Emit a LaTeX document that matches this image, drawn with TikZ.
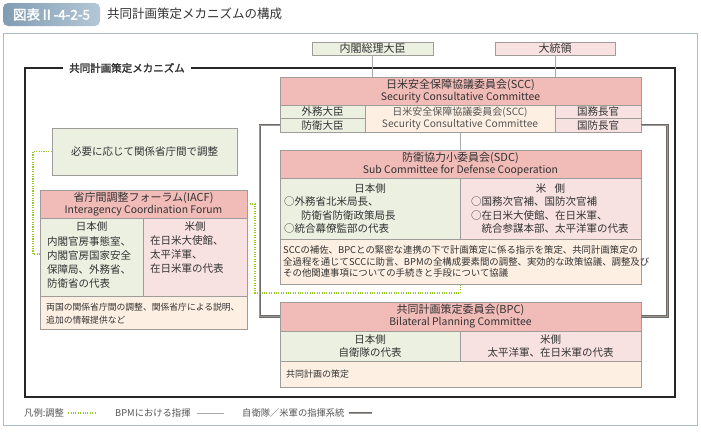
\documentclass[tikz,border=0pt]{standalone}
\usepackage{fontspec}
\setmainfont{Noto Sans CJK JP}
\newfontfamily\jpbold{Noto Sans CJK JP}[FakeBold=2]
\usetikzlibrary{calc}
\definecolor{hdr}{HTML}{F1BBB8}
\definecolor{grn}{HTML}{ECF0E1}
\definecolor{pnk}{HTML}{F8E1E1}
\definecolor{pch}{HTML}{FDEFE2}
\definecolor{bord}{HTML}{A09C9A}
\definecolor{outerc}{HTML}{A9BCCB}
\definecolor{txt}{HTML}{333333}
\definecolor{subtxt}{HTML}{555555}
\definecolor{dotg}{HTML}{96C82E}
\definecolor{cmd}{HTML}{6E6A68}
\definecolor{cmdin}{HTML}{9B9794}
\definecolor{thinc}{HTML}{A8A8A8}
\definecolor{badgeA}{HTML}{809DB4}
\definecolor{badgeB}{HTML}{B4C7D6}
\newcommand{\hj}[1]{{\fontsize{11}{13}\selectfont #1}}
\newcommand{\he}[1]{{\fontsize{10.4}{13}\selectfont #1}}
\tikzset{
  cell/.style={draw=bord, line width=0.6pt, inner sep=0pt, text=txt, align=center},
  f10/.style={font=\fontsize{10}{13}\selectfont},
  f105/.style={font=\fontsize{10.5}{13.5}\selectfont},
  f11/.style={font=\fontsize{11}{13}\selectfont},
  txtnode/.style={inner sep=0pt, text=txt, align=left},
  ctxt/.style={inner sep=0pt, text=txt, align=center},
  coordline/.style={dotg, line width=1.2pt, dash pattern=on 1.1pt off 1.3pt},
  cmdline/.style={draw=cmd, line width=0.7pt, double=cmdin, double distance=1pt},
  thinline/.style={thinc, line width=0.7pt},
  leg/.style={inner sep=0pt, text=subtxt, font=\fontsize{9.3}{11}\selectfont, anchor=west},
}
\begin{document}
\begin{tikzpicture}[x=1pt,y=-1pt]
\useasboundingbox (0,0) rectangle (701,431);
\fill[white] (0,0) rectangle (701,431);
% outer frame
\draw[outerc, line width=0.9pt] (3,33) rectangle (697,425);
% badge + title
\node[rounded corners=5pt, left color=badgeA, right color=badgeB, minimum width=97pt, minimum height=23pt, inner sep=0pt, text=white, font=\jpbold\fontsize{13.5}{14}\selectfont] (badge) at (51.5,14.5) {図表Ⅱ-4-2-5};
\node[anchor=west, inner sep=0pt, text=txt, font=\fontsize{12.5}{14}\selectfont] (title) at (107,14) {共同計画策定メカニズムの構成};
% inner frame
\node[inner sep=0pt, text=txt, font=\jpbold\fontsize{10.5}{12}\selectfont] (mech) at (127,68) {共同計画策定メカニズム};
\draw[black!85, line width=1.1pt] ([xshift=-6pt]mech.west) -- (25,68) -- (25,397) -- (675,397) -- (675,68) -- ([xshift=6pt]mech.east);
% top
\node[cell, fill=grn, minimum width=121pt, minimum height=13pt, f11] (pm) at (372.5,48.5) {内閣総理大臣};
\node[cell, fill=pnk, minimum width=120pt, minimum height=13pt, f11] (pres) at (555,48.5) {大統領};
% SCC
\node[cell, fill=hdr, minimum width=361pt, minimum height=28pt] (scch) at (460.5,91) {\hj{日米安全保障協議委員会(SCC)}\\\he{Security Consultative Committee}};
\node[cell, fill=grn, minimum width=85pt, minimum height=13.5pt, f105] (gaimu) at (322.5,111.75) {外務大臣};
\node[cell, fill=grn, minimum width=85pt, minimum height=13.5pt, f105] (boei) at (322.5,125.25) {防衛大臣};
\node[cell, fill=pch, minimum width=190pt, minimum height=27pt, text=subtxt] (sccm) at (460,118.5) {{\fontsize{10}{13}\selectfont 日米安全保障協議委員会(SCC)}\\{\fontsize{10.2}{13}\selectfont Security Consultative Committee}};
\node[cell, fill=pnk, minimum width=86pt, minimum height=13.5pt, f105] (kokumu) at (598,111.75) {国務長官};
\node[cell, fill=pnk, minimum width=86pt, minimum height=13.5pt, f105] (kokubo) at (598,125.25) {国防長官};
% SDC
\node[cell, fill=hdr, minimum width=361pt, minimum height=28pt] (sdch) at (460.5,164) {\hj{防衛協力小委員会(SDC)}\\\he{Sub Committee for Defense Cooperation}};
\node[cell, fill=grn, minimum width=180pt, minimum height=61pt] (sdcj) at (370,208.5) {};
\node[cell, fill=pnk, minimum width=181pt, minimum height=61pt] (sdcu) at (550.5,208.5) {};
\node[cell, fill=pch, minimum width=361pt, minimum height=45pt] (sdcb) at (460.5,261.5) {};
\node[ctxt, f105] (sdcjt) at (370,189) {日本側};
\node[txtnode, f105, anchor=west] (sdcjb) at (284,215.5) {○外務省北米局長、\\\hspace*{1.6em}防衛省防衛政策局長\\○統合幕僚監部の代表};
\node[ctxt, f105] (sdcut) at (550.5,189) {米\hspace{0.8em}側};
\node[txtnode, f105, anchor=west] (sdcub) at (471,215.5) {○国務次官補、国防次官補\\○在日米大使館、在日米軍、\\\hspace*{1em}統合参謀本部、太平洋軍の代表};
\node[txtnode, font=\fontsize{9.4}{11.8}\selectfont, anchor=west] (sdcbt) at (283,261.5) {SCCの補佐、BPCとの緊密な連携の下で計画策定に係る指示を策定、共同計画策定の\\全過程を通じてSCCに助言、BPMの全構成要素間の調整、実効的な政策協議、調整及び\\その他関連事項についての手続きと手段について協議};
% BPC
\node[cell, fill=hdr, minimum width=361pt, minimum height=29pt] (bpch) at (460.5,316.5) {\hj{共同計画策定委員会(BPC)}\\\he{Bilateral Planning Committee}};
\node[cell, fill=grn, minimum width=180pt, minimum height=30pt, f105] (bpcj) at (370,346) {日本側\\自衛隊の代表};
\node[cell, fill=pnk, minimum width=181pt, minimum height=30pt, f105] (bpcu) at (550.5,346) {米側\\太平洋軍、在日米軍の代表};
\node[cell, fill=pch, minimum width=361pt, minimum height=26pt] (bpcb) at (460.5,374) {};
\node[txtnode, font=\fontsize{9}{12}\selectfont, anchor=west] (bpcbt) at (286,374) {共同計画の策定};
% IACF side
\node[cell, fill=grn, minimum width=185pt, minimum height=47pt, f105] (needs) at (144.5,151.5) {必要に応じて関係省庁間で調整};
\node[cell, fill=hdr, minimum width=207pt, minimum height=28pt] (iacfh) at (143.5,204) {\hj{省庁間調整フォーラム(IACF)}\\\he{Interagency Coordination Forum}};
\node[cell, fill=grn, minimum width=103pt, minimum height=78pt] (iacfj) at (91.5,257) {};
\node[cell, fill=pnk, minimum width=104pt, minimum height=78pt] (iacfu) at (195,257) {};
\node[cell, fill=pch, minimum width=207pt, minimum height=33pt] (iacfb) at (143.5,312.5) {};
\node[ctxt, f105] (iacfjt) at (91.5,227) {日本側};
\node[txtnode, font=\fontsize{10.5}{14}\selectfont, anchor=west] (iacfjb) at (47,262) {内閣官房事態室、\\内閣官房国家安全\\保障局、外務省、\\防衛省の代表};
\node[ctxt, f105] (iacfut) at (195,227) {米側};
\node[txtnode, font=\fontsize{10.5}{14}\selectfont, anchor=west] (iacfub) at (150,255) {在日米大使館、\\太平洋軍、\\在日米軍の代表};
\node[txtnode, font=\fontsize{8.8}{13}\selectfont, anchor=west] (iacfbt) at (46,313.5) {両国の関係省庁間の調整、関係省庁による説明、\\追加の情報提供など};
% connectors
\draw[thinline] (pm.south) -- (pm.south |- scch.north);
\draw[thinline] (pres.south) -- (pres.south |- scch.north);
\draw[thinline] (sccm.south) -- (sccm.south |- sdch.north);
\draw[cmdline] (boei.west) -- ++(-20,0) |- (bpch.west);
\draw[cmdline] (kokubo.east) -- ++(26,0) |- (bpch.east);
\coordinate (dl) at (33,151.5);
\draw[coordline] (needs.west) -- (dl) |- ([yshift=3pt]iacfj.west);
\coordinate (dr) at (255,293);
\draw[coordline] (iacfh.east) -| (dr) -| (sdcb.south);
% legend
\node[leg] (lg1) at (24,413) {凡例:調整};
\node[leg] (lg2) at (115,413) {BPMにおける指揮};
\node[leg] (lg3) at (242,413) {自衛隊／米軍の指揮系統};
\draw[coordline] ([xshift=4pt]lg1.east) -- ++(27,0);
\draw[thinline] ([xshift=6pt]lg2.east) -- ++(27,0);
\draw[cmdline] ([xshift=4pt]lg3.east) -- ++(23,0);
\end{tikzpicture}
\end{document}
